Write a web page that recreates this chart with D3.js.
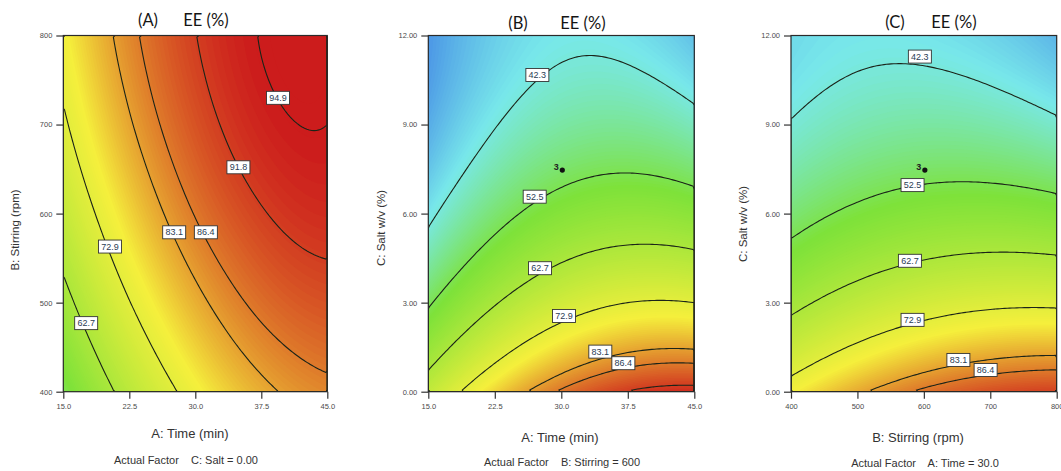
<!DOCTYPE html>
<html>
<head>
<meta charset="utf-8">
<script src="https://cdn.jsdelivr.net/npm/d3@7"></script>
<style>
  body { margin: 0; background: #fff; }
  svg text { font-family: "Liberation Sans", Arial, sans-serif; }
  .title { font-family: Lato, "Open Sans", sans-serif; font-size: 16.5px; fill: #151515; }
  .tick text { font-size: 7.5px; fill: #4a4a4a; }
  .tick line { stroke: #333; }
</style>
</head>
<body>
<div id="chart"></div>
<script>
////////////////////////////////////////////////////////
// Data ////////////////////////////////////////////////
////////////////////////////////////////////////////////

var timeTicks = [15.0, 22.5, 30.0, 37.5, 45.0];
var stirringTicks = [400, 500, 600, 700, 800];
var saltTicks = [0, 3, 6, 9, 12];

// EE (%) read at the tick crossings, first row = lowest y tick
var eeTimeStirring = [
  [52.4, 65.4, 75.3, 81.9, 85.3],
  [60.5, 72.7, 81.7, 87.5, 90.0],
  [67.0, 78.4, 86.6, 91.5, 93.3],
  [72.0, 82.6, 89.9, 94.0, 94.9],
  [75.4, 85.2, 91.7, 95.0, 95.1]
];
var eeTimeSalt = [
  [66.7, 78.6, 87.0, 92.0, 93.4],
  [51.7, 62.2, 69.3, 72.9, 72.9],
  [40.9, 50.0, 55.7, 57.9, 56.6],
  [34.2, 42.0, 46.3, 47.2, 44.5],
  [31.8, 38.2, 41.2, 40.6, 36.5]
];
var eeStirringSalt = [
  [75.8, 82.3, 87.2, 90.3, 91.6],
  [60.8, 66.1, 69.7, 71.6, 71.8],
  [49.8, 53.8, 56.1, 56.7, 55.6],
  [42.6, 45.4, 46.5, 45.8, 43.3],
  [39.5, 41.0, 40.8, 38.9, 35.3]
];

var levelsA = [62.7, 72.9, 83.1, 86.4, 91.8, 94.9];
var levelsB = [42.3, 52.5, 62.7, 72.9, 83.1, 86.4, 91.8];
var levelsC = [42.3, 52.5, 62.7, 72.9, 83.1, 86.4];

// contour labels (text, x, y in data units)
var labelsA = [["94.9", 39.4, 730], ["91.8", 34.9, 652], ["83.1", 27.6, 579],
               ["86.4", 31.2, 579], ["72.9", 20.3, 563], ["62.7", 17.6, 477]];
var labelsB = [["42.3", 27.3, 10.67], ["52.5", 27.0, 6.57], ["62.7", 27.6, 4.16],
               ["72.9", 30.3, 2.55], ["83.1", 34.4, 1.35], ["86.4", 37.0, 0.96]];
var labelsC = [["42.3", 594, 11.29], ["52.5", 583, 6.96], ["62.7", 579, 4.41],
               ["72.9", 583, 2.42], ["83.1", 652, 1.07], ["86.4", 693, 0.73]];

// replicated design point (x, y, count)
var centerB = [30, 7.5, 3];
var centerC = [600, 7.5, 3];

var colorStops = [28, 41, 54, 76, 94.5];

////////////////////////////////////////////////////////
// Setup ///////////////////////////////////////////////
////////////////////////////////////////////////////////

var cfg = { width: 1061, height: 471, top: 35.5, bottom: 391.7, n: 110, m: 110 };

var color = d3.scaleLinear()
  .domain(colorStops)
  .range(["#3b78e4", "#78e8ea", "#7ee23a", "#f5ef3c", "#cc1c1c"])
  .clamp(true);

var panels = [
  { key: "A", tag: "(A)", left: 63.3, right: 327.3, xTicks: timeTicks, yTicks: stirringTicks,
    xFmt: ".1f", yFmt: "d", grid: eeTimeStirring, levels: levelsA, labels: labelsA, center: null,
    xTitle: "A: Time (min)", yTitle: "B: Stirring (rpm)", note: "Actual Factor    C: Salt = 0.00",
    titleY: 26, tagX: 148, eeX: 206, xTitleX: 190, xTitleY: 438, noteX: 186, noteY: 464, yTitleX: 19, yTitleY: 230 },
  { key: "B", tag: "(B)", left: 428.3, right: 694.3, xTicks: timeTicks, yTicks: saltTicks,
    xFmt: ".1f", yFmt: ".2f", grid: eeTimeSalt, levels: levelsB, labels: labelsB, center: centerB,
    xTitle: "A: Time (min)", yTitle: "C: Salt w/v (%)", note: "Actual Factor    B: Stirring = 600",
    titleY: 29, tagX: 518, eeX: 583, xTitleX: 560, xTitleY: 442, noteX: 562, noteY: 466, yTitleX: 385, yTitleY: 228 },
  { key: "C", tag: "(C)", left: 791, right: 1056.7, xTicks: stirringTicks, yTicks: saltTicks,
    xFmt: "d", yFmt: ".2f", grid: eeStirringSalt, levels: levelsC, labels: labelsC, center: centerC,
    xTitle: "B: Stirring (rpm)", yTitle: "C: Salt w/v (%)", note: "Actual Factor    A: Time = 30.0",
    titleY: 28, tagX: 895, eeX: 954, xTitleX: 918, xTitleY: 442, noteX: 925, noteY: 467, yTitleX: 747, yTitleY: 224 }
];

// smooth the tick-crossing grid into an n x m field (row 0 on top)
function upsample(grid, n, m) {
  function ext(a) {
    var k = a.length;
    return [3 * a[0] - 3 * a[1] + a[2]].concat(a, [3 * a[k - 1] - 3 * a[k - 2] + a[k - 3]]);
  }
  function cr(a, s) {
    var i = Math.min(Math.floor(s), a.length - 4), t = s - i;
    var p0 = a[i], p1 = a[i + 1], p2 = a[i + 2], p3 = a[i + 3];
    return 0.5 * (2 * p1 + (p2 - p0) * t + (2 * p0 - 5 * p1 + 4 * p2 - p3) * t * t +
                  (3 * p1 - p0 - 3 * p2 + p3) * t * t * t);
  }
  var rows = grid.map(ext), nx = grid[0].length, ny = grid.length;
  var out = new Array(n * m);
  for (var i = 0; i < n; i++) {
    var s = (i + 0.5) / n * (nx - 1);
    var col = ext(rows.map(function(r) { return cr(r, s); }));
    for (var j = 0; j < m; j++) {
      out[j * n + i] = cr(col, (1 - (j + 0.5) / m) * (ny - 1));
    }
  }
  return out;
}

var svg = d3.select("#chart").append("svg")
  .attr("width", cfg.width)
  .attr("height", cfg.height);
var defs = svg.append("defs");

////////////////////////////////////////////////////////
// Panels //////////////////////////////////////////////
////////////////////////////////////////////////////////

panels.forEach(function(p) {
  var x = d3.scaleLinear().domain(d3.extent(p.xTicks)).range([p.left, p.right]);
  var y = d3.scaleLinear().domain(d3.extent(p.yTicks)).range([cfg.bottom, cfg.top]);
  var x0 = x.domain()[0], x1 = x.domain()[1], y0 = y.domain()[0], y1 = y.domain()[1];
  var n = cfg.n, m = cfg.m;

  defs.append("clipPath").attr("id", "clip" + p.key)
    .append("rect")
      .attr("x", p.left).attr("y", cfg.top)
      .attr("width", p.right - p.left).attr("height", cfg.bottom - cfg.top);

  var values = upsample(p.grid, n, m);
  var proj = d3.geoTransform({
    point: function(cx, cy) {
      this.stream.point(x(x0 + cx / n * (x1 - x0)), y(y1 - cy / m * (y1 - y0)));
    }
  });
  var path = d3.geoPath(proj);

  var g = svg.append("g").attr("clip-path", "url(#clip" + p.key + ")");

  // colour field
  g.append("rect")
    .attr("x", p.left).attr("y", cfg.top)
    .attr("width", p.right - p.left).attr("height", cfg.bottom - cfg.top)
    .attr("fill", color(d3.min(values)));
  g.append("g").selectAll("path")
    .data(d3.contours().size([n, m]).thresholds(d3.range(24, 100, 0.4))(values))
    .enter().append("path")
      .attr("d", path)
      .attr("fill", function(d) { return color(d.value); });

  // contour lines
  g.append("g").selectAll("path")
    .data(d3.contours().size([n, m]).thresholds(p.levels)(values))
    .enter().append("path")
      .attr("d", path)
      .attr("fill", "none")
      .attr("stroke", "#1b2418")
      .attr("stroke-width", 1.1);

  // frame and axes
  svg.append("rect")
    .attr("x", p.left).attr("y", cfg.top)
    .attr("width", p.right - p.left).attr("height", cfg.bottom - cfg.top)
    .attr("fill", "none").attr("stroke", "#2a2a2a").attr("stroke-width", 1.2);

  var ax = svg.append("g").attr("transform", "translate(0," + cfg.bottom + ")")
    .call(d3.axisBottom(x).tickValues(p.xTicks).tickFormat(d3.format(p.xFmt))
      .tickSize(7).tickSizeOuter(0).tickPadding(5));
  var ay = svg.append("g").attr("transform", "translate(" + p.left + ",0)")
    .call(d3.axisLeft(y).tickValues(p.yTicks).tickFormat(d3.format(p.yFmt))
      .tickSize(7).tickSizeOuter(0).tickPadding(4));
  ax.select(".domain").remove();
  ay.select(".domain").remove();
  svg.selectAll(".tick text").attr("font-family", null).attr("font-size", null);
  svg.selectAll(".tick line").attr("stroke-width", 1.2);

  // contour labels
  var lab = svg.append("g").selectAll("g")
    .data(p.labels)
    .enter().append("g")
      .attr("transform", function(d) { return "translate(" + x(d[1]) + "," + y(d[2]) + ")"; });
  lab.append("rect")
    .attr("x", -11.5).attr("y", -6.5).attr("width", 23).attr("height", 13)
    .attr("fill", "#fff").attr("stroke", "#333").attr("stroke-width", 0.9);
  lab.append("text")
    .attr("text-anchor", "middle").attr("dy", "0.35em")
    .attr("font-size", 9).attr("fill", "#2b3d55")
    .text(function(d) { return d[0]; });

  // replicated design point
  if (p.center) {
    svg.append("circle")
      .attr("cx", x(p.center[0]) + 1).attr("cy", y(p.center[1]) + 1)
      .attr("r", 2.6).attr("fill", "#111");
    svg.append("text")
      .attr("x", x(p.center[0]) - 5).attr("y", y(p.center[1]) + 1)
      .attr("text-anchor", "middle").attr("font-size", 9).attr("font-weight", "bold")
      .attr("fill", "#222")
      .text(p.center[2]);
  }

  // titles
  svg.append("text").attr("class", "title")
    .attr("x", p.tagX).attr("y", p.titleY).attr("text-anchor", "middle").text(p.tag);
  svg.append("text").attr("class", "title")
    .attr("x", p.eeX).attr("y", p.titleY).attr("text-anchor", "middle").text("EE (%)");
  svg.append("text")
    .attr("x", p.xTitleX).attr("y", p.xTitleY).attr("text-anchor", "middle")
    .attr("font-size", 13).attr("fill", "#333").text(p.xTitle);
  svg.append("text")
    .attr("transform", "translate(" + p.yTitleX + "," + p.yTitleY + ") rotate(-90)")
    .attr("text-anchor", "middle").attr("font-size", 11.5).attr("fill", "#333").text(p.yTitle);
  svg.append("text")
    .attr("x", p.noteX).attr("y", p.noteY).attr("text-anchor", "middle")
    .attr("font-size", 11).attr("fill", "#333").style("white-space", "pre").text(p.note);
});
</script>
</body>
</html>
